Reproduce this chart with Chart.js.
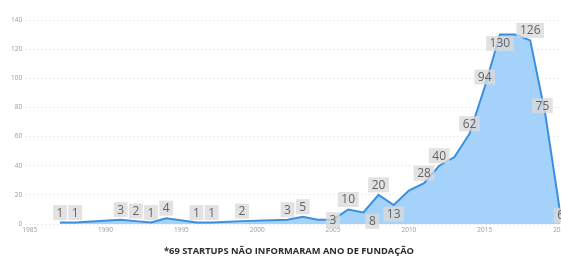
<!DOCTYPE html>
<html>
<head>
<meta charset="utf-8">
<script src="https://cdn.jsdelivr.net/npm/chart.js@4"></script>
<style>
  html, body { margin: 0; padding: 0; background: #fff; overflow: hidden; }
  #wrap { width: 570px; height: 259px; }
</style>
</head>
<body>
<div id="wrap"><canvas id="myChart"></canvas></div>
<script>
// founding year -> number of startups
const years  = [1987, 1988, 1991, 1992, 1993, 1994, 1996, 1997, 1999, 2002, 2003, 2004, 2005, 2006, 2007, 2008, 2009, 2010, 2011, 2012, 2013, 2014, 2015, 2016, 2017, 2018, 2019, 2020];
const values = [1, 1, 3, 2, 1, 4, 1, 1, 2, 3, 5, 3, 3, 10, 8, 20, 13, 23, 28, 40, 46, 62, 94, 130, 130, 126, 75, 6];
const xTicks = [1985, 1990, 1995, 2000, 2005, 2010, 2015, 2020];
const caption = '*69 STARTUPS NÃO INFORMARAM ANO DE FUNDAÇÃO';

// labels that power bi dropped because they overlapped
const hiddenLabels = [2004, 2010, 2013, 2017];
// labels drawn on / under the point instead of above
const labelPlace = { 2005: 'center', 2007: 'below', 2009: 'below', 2016: 'below', 2020: 'center' };

let ctx = document.getElementById('myChart').getContext('2d');

const boxLabels = {
  id: 'boxLabels',
  afterDatasetsDraw(chart) {
    const c = chart.ctx;
    const meta = chart.getDatasetMeta(0);
    c.save();
    c.font = '12px "Open Sans"';
    c.textAlign = 'center';
    c.textBaseline = 'middle';
    meta.data.forEach((pt, i) => {
      const yr = years[i];
      if (hiddenLabels.includes(yr)) return;
      const txt = String(values[i]);
      let x = pt.x, y = pt.y - 10;
      const place = labelPlace[yr];
      if (place === 'below') { y = pt.y + 9; }
      if (place === 'center') { y = pt.y; }
      if (yr === 2007) x += 9;
      if (yr === 2019) { x -= 3; y = pt.y - 9; }
      const w = c.measureText(txt).width + 7;
      const h = 15;
      c.fillStyle = 'rgba(218,218,218,0.78)';
      c.fillRect(x - w / 2, y - h / 2, w, h);
      c.fillStyle = '#636363';
      c.fillText(txt, x, y + 0.5);
    });
    c.restore();
  }
};

const data = {
  datasets: [{
    label: 'Startups',
    data: years.map((y, i) => ({ x: y, y: values[i] })),
    fill: 'origin',
    backgroundColor: '#a5d2fa',
    borderColor: '#3a8fe1',
    borderWidth: 2,
    pointRadius: 0,
    tension: 0
  }]
};

const config = {
  type: 'line',
  data: data,
  plugins: [boxLabels],
  options: {
    responsive: true,
    maintainAspectRatio: false,
    animation: false,
    layout: { padding: { left: 8, top: 20, right: 0, bottom: 0 } },
    plugins: {
      legend: { display: false },
      tooltip: { enabled: false },
      title: {
        display: true,
        text: caption,
        position: 'bottom',
        color: '#2b2b2b',
        font: { family: '"Open Sans"', size: 9.3, weight: 'bold' },
        padding: { top: 10, bottom: 2 }
      }
    },
    scales: {
      x: {
        type: 'linear',
        min: 1984.7,
        max: 2020,
        afterBuildTicks: axis => { axis.ticks = xTicks.map(v => ({ value: v })); },
        grid: { display: false, drawTicks: false },
        border: { display: false },
        ticks: {
          color: '#9a9a9a',
          font: { family: '"Open Sans"', size: 6.5 },
          padding: 2,
          maxRotation: 0,
          callback: v => String(v)
        }
      },
      y: {
        min: 0,
        max: 140,
        ticks: {
          stepSize: 20,
          color: '#9a9a9a',
          font: { family: '"Open Sans"', size: 6.5 },
          padding: 3
        },
        grid: { color: '#ececec', lineWidth: 1, drawTicks: false },
        border: { display: false, dash: [2, 2] }
      }
    }
  }
};

let chart = new Chart(ctx, config);
</script>
</body>
</html>
